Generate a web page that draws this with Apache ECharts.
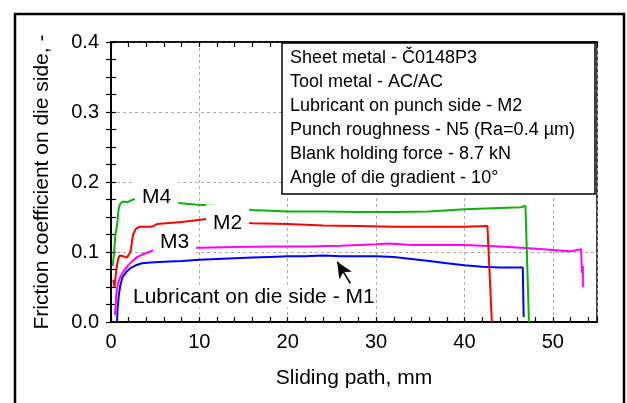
<!DOCTYPE html>
<html>
<head>
<meta charset="utf-8">
<script src="https://cdn.jsdelivr.net/npm/echarts@6/dist/echarts.min.js"></script>
<style>
  html, body { margin: 0; padding: 0; background: #fff; }
  #chart { width: 627px; height: 403px; }
</style>
</head>
<body>
<div id="chart"></div>
<script>
// sliding path (mm) and friction coefficient
const m1X = [0.68, 0.75, 0.9, 1.05, 1.3, 1.7, 2.2, 2.8, 3.5, 4.5, 6, 8, 10, 12, 14, 16, 18, 20, 22, 24, 26, 28, 30, 32, 34, 36, 38, 40, 42, 44, 46.6, 46.7];
const m1Y = [0.0, 0.02, 0.04, 0.052, 0.064, 0.071, 0.077, 0.081, 0.084, 0.085, 0.086, 0.087, 0.089, 0.09, 0.091, 0.092, 0.093, 0.094, 0.094, 0.095, 0.094, 0.094, 0.094, 0.093, 0.09, 0.087, 0.084, 0.081, 0.079, 0.078, 0.078, 0.007];

const m2X = [0.25, 0.4, 0.6, 0.8, 1.0, 1.4, 1.8, 2.2, 2.5, 2.8, 3.2, 4.5, 4.8, 5.2, 8, 10.8, 13, 16, 20, 24, 28, 32, 36, 40, 42.6, 43.1];
const m2Y = [0.06, 0.05, 0.075, 0.09, 0.095, 0.094, 0.092, 0.1, 0.125, 0.133, 0.136, 0.136, 0.137, 0.14, 0.143, 0.147, 0.144, 0.141, 0.14, 0.138, 0.137, 0.136, 0.136, 0.136, 0.137, 0.0];

const m3X = [0.45, 0.6, 0.8, 1.1, 1.5, 2.0, 2.5, 3.0, 3.5, 4.5, 5, 6, 8, 10, 14, 18, 22, 26, 30, 31.5, 34, 38, 40, 44, 47.8, 50, 52, 52.8, 53.2, 53.3, 53.4, 53.4];
const m3Y = [0.01, 0.04, 0.056, 0.066, 0.074, 0.082, 0.088, 0.093, 0.096, 0.101, 0.104, 0.105, 0.106, 0.106, 0.107, 0.108, 0.108, 0.109, 0.111, 0.112, 0.11, 0.11, 0.11, 0.108, 0.105, 0.103, 0.101, 0.103, 0.104, 0.07, 0.08, 0.05];

const m4X = [0.2, 0.35, 0.5, 0.7, 0.85, 1.0, 1.3, 1.8, 2.5, 3.5, 5, 7.6, 9.5, 11.8, 14, 16, 20, 24, 28, 32, 36, 40, 44, 46.4, 46.9, 47.3];
const m4Y = [0.08, 0.1, 0.125, 0.14, 0.16, 0.168, 0.172, 0.171, 0.175, 0.176, 0.172, 0.17, 0.168, 0.166, 0.163, 0.16, 0.158, 0.158, 0.157, 0.157, 0.158, 0.161, 0.163, 0.164, 0.166, 0.0];

const xTicks = [0, 10, 20, 30, 40, 50];
const yTicks = [0.0, 0.1, 0.2, 0.3, 0.4];

const infoLines = [
  'Sheet metal - Č0148P3',
  'Tool metal - AC/AC',
  'Lubricant on punch side - M2',
  'Punch roughness - N5 (Ra=0.4 µm)',
  'Blank holding force - 8.7 kN',
  'Angle of die gradient - 10°'
];

const FONT = '"Liberation Sans", Arial, sans-serif';

function pairs(xs, ys) {
  return xs.map((x, i) => [x, ys[i]]);
}

const chart = echarts.init(document.getElementById('chart'));

const dashed = { show: true, lineStyle: { color: '#aaa', type: [3, 3], width: 1 } };
const blackLine = { show: true, lineStyle: { color: '#000', width: 1.5 } };

function line(name, xs, ys, color) {
  return {
    name,
    type: 'line',
    data: pairs(xs, ys),
    showSymbol: false,
    symbol: 'none',
    lineStyle: { color, width: 2 },
    itemStyle: { color },
    animation: false,
    z: 3,
  };
}

const series = [
  line('M3', m3X, m3Y, '#ff00ff'),
  line('M1', m1X, m1Y, '#0000ff'),
  line('M2', m2X, m2Y, '#ff0000'),
  line('M4', m4X, m4Y, '#10b010'),
];
// arrow pointing to the M1 curve
series[1].markLine = {
  silent: true,
  symbol: ['none', 'arrow'],
  symbolSize: [11, 16],
  lineStyle: { color: '#000', width: 1.5, type: 'solid' },
  label: { show: false },
  animation: false,
  data: [[{ coord: [27.1, 0.055] }, { coord: [25.6, 0.086] }]],
};

function textLabel(text, x, y, pad) {
  return {
    type: 'text',
    x, y,
    z: 50,
    style: {
      text,
      font: '21px ' + FONT,
      fill: '#000',
      align: 'left',
      verticalAlign: 'middle',
      backgroundColor: '#fff',
      padding: pad,
    },
  };
}

chart.setOption({
  animation: false,
  textStyle: { fontFamily: FONT },
  grid: {
    left: 111, top: 42, right: 30, bottom: 81,
    show: true, borderColor: '#000', borderWidth: 1.5,
  },
  xAxis: [
    {
      type: 'value', min: 0, max: 55, interval: 10, position: 'bottom',
      axisLine: blackLine,
      axisTick: { show: false },
      axisLabel: {
        color: '#000', fontSize: 20, margin: 10, showMaxLabel: false,
        formatter: v => (xTicks.includes(v) ? String(v) : ''),
      },
      splitLine: dashed,
      name: 'Sliding path, mm',
      nameLocation: 'middle',
      nameGap: 46,
      nameTextStyle: { color: '#000', fontSize: 21 },
    },
    {
      type: 'value', min: 0, max: 55, interval: 2, position: 'bottom',
      axisLine: blackLine,
      axisTick: { show: true, inside: true, length: 5, lineStyle: { color: '#000', width: 1.2 } },
      axisLabel: { show: false },
      splitLine: { show: false },
    },
    {
      type: 'value', min: 0, max: 55, interval: 2, position: 'top',
      axisLine: blackLine,
      axisTick: { show: true, inside: true, length: 5, lineStyle: { color: '#000', width: 1.2 } },
      axisLabel: { show: false },
      splitLine: { show: false },
    },
  ],
  yAxis: [
    {
      type: 'value', min: 0, max: 0.4, interval: 0.1, position: 'left',
      axisLine: blackLine,
      axisTick: { show: true, inside: true, length: 5, lineStyle: { color: '#000', width: 1.2 } },
      minorTick: { show: true, splitNumber: 4, length: 5, lineStyle: { color: '#000', width: 1.2 } },
      axisLabel: {
        color: '#000', fontSize: 20, margin: 12,
        formatter: v => Number(v).toFixed(1),
      },
      splitLine: dashed,
      name: 'Friction coefficient on die side, -',
      nameLocation: 'middle',
      nameGap: 58,
      nameTextStyle: { color: '#000', fontSize: 21 },
    },
    {
      type: 'value', min: 0, max: 0.4, interval: 0.1, position: 'right',
      axisLine: blackLine,
      axisTick: { show: true, inside: true, length: 5, lineStyle: { color: '#000', width: 1.2 } },
      minorTick: { show: true, splitNumber: 4, length: 5, lineStyle: { color: '#000', width: 1.2 } },
      axisLabel: { show: false },
      splitLine: { show: false },
    },
  ],
  series,
  graphic: [
    {
      type: 'rect',
      z: 0,
      shape: { x: 15, y: 14, width: 609, height: 430 },
      style: { fill: 'none', stroke: '#000', lineWidth: 2.5 },
    },
    {
      type: 'rect',
      z: 60,
      shape: { x: 282, y: 43, width: 313, height: 151 },
      style: { fill: '#fff', stroke: '#000', lineWidth: 1.5 },
    },
    ...infoLines.map((t, i) => ({
      type: 'text',
      z: 61,
      x: 290,
      y: 58 + i * 24,
      style: { text: t, font: '18px ' + FONT, fill: '#000', verticalAlign: 'middle' },
    })),
    textLabel('M4', 135, 197, [8, 7]),
    textLabel('M2', 206, 223, [8, 7]),
    textLabel('M3', 153, 242, [4, 7]),
    textLabel('Lubricant on die side - M1', 133, 297, [0, 0]),
  ],
});
</script>
</body>
</html>
